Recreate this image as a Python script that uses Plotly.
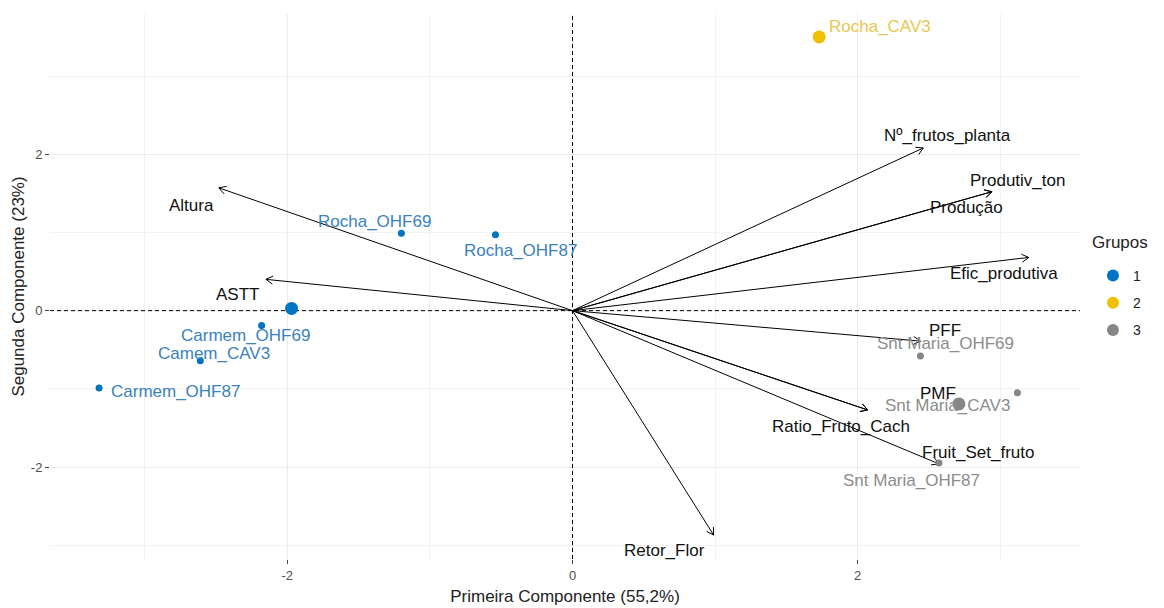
import numpy as np
import plotly.graph_objects as go

# ---- PCA scores of the individuals ----
ind_names = ["Rocha_CAV3", "Rocha_OHF69", "Rocha_OHF87", "Carmem_OHF69", "Camem_CAV3",
             "Carmem_OHF87", "Snt Maria_OHF69", "Snt Maria_CAV3", "Snt Maria_OHF87"]
ind_pc1 = [1.73, -1.20, -0.54, -2.18, -2.61, -3.32, 2.44, 3.12, 2.57]
ind_pc2 = [3.50, 0.99, 0.97, -0.19, -0.64, -0.99, -0.58, -1.05, -1.95]
ind_group = ["2", "1", "1", "1", "1", "1", "3", "3", "3"]

# ---- variable loadings (biplot scale) ----
var_names = ["Altura", "ASTT", "Nº_frutos_planta", "Produtiv_ton", "Produção", "Efic_produtiva",
             "PFF", "PMF", "Ratio_Fruto_Cach", "Fruit_Set_fruto", "Retor_Flor"]
var_pc1 = [-2.48, -2.15, 2.46, 2.94, 2.94, 3.20, 2.44, 2.07, 2.07, 2.57, 0.99]
var_pc2 = [1.57, 0.40, 2.08, 1.52, 1.52, 0.68, -0.39, -1.27, -1.27, -1.96, -2.87]

group_levels = ["1", "2", "3"]

# ---- styling ----
group_colors = {"1": "#0073C2", "2": "#EFC000", "3": "#868686"}
label_colors = {"1": "#3A82BE", "2": "#EBC650", "3": "#8C8C8C"}
FONT = "Liberation Sans, Arial, sans-serif"

# label offsets in pixels (dx right, dy up)
ind_label_shift = {
    "Rocha_CAV3": (61, 10), "Rocha_OHF69": (-27, 12), "Rocha_OHF87": (25, -16),
    "Carmem_OHF69": (-16, -10), "Camem_CAV3": (14, 7), "Carmem_OHF87": (76, -3),
    "Snt Maria_OHF69": (25, 12), "Snt Maria_CAV3": (-70, -13), "Snt Maria_OHF87": (-27, -17),
}
var_label_shift = {
    "Altura": (-27, -18), "ASTT": (-28, -15), "Nº_frutos_planta": (24, 12),
    "Produtiv_ton": (26, 11), "Produção": (-25, -16), "Efic_produtiva": (-25, -16),
    "PFF": (25, 11), "PMF": (70, 16), "Ratio_Fruto_Cach": (-27, -17),
    "Fruit_Set_fruto": (39, 11), "Retor_Flor": (-49, -15),
}

W, H = 1164, 608
M = dict(l=50, r=84, t=14, b=49)
XR = [-3.664, 3.559]
YR = [-3.176, 3.793]
sx = (W - M["l"] - M["r"]) / (XR[1] - XR[0])
sy = (H - M["t"] - M["b"]) / (YR[1] - YR[0])

fig = go.Figure()

# dashed reference lines through the origin
fig.add_trace(go.Scatter(x=[XR[0], XR[1]], y=[0, 0], mode="lines",
                         line=dict(color="black", width=1, dash="4px,3px"),
                         showlegend=False, hoverinfo="skip"))
fig.add_trace(go.Scatter(x=[0, 0], y=[YR[0], YR[1]], mode="lines",
                         line=dict(color="black", width=1, dash="4px,3px"),
                         showlegend=False, hoverinfo="skip"))

# arrows for variables: shafts + open heads computed in pixel space
ax_x, ax_y = [], []
head_len, head_ang = 8.0, np.deg2rad(30)
for vx, vy in zip(var_pc1, var_pc2):
    ax_x += [0, vx, None]
    ax_y += [0, vy, None]
    px, py = vx * sx, vy * sy
    n = np.hypot(px, py)
    ux, uy = -px / n, -py / n
    for s in (1, -1):
        c, si = np.cos(s * head_ang), np.sin(s * head_ang)
        rx, ry = ux * c - uy * si, ux * si + uy * c
        ax_x += [vx + rx * head_len / sx, vx, None]
        ax_y += [vy + ry * head_len / sy, vy, None]
fig.add_trace(go.Scatter(x=ax_x, y=ax_y, mode="lines", line=dict(color="black", width=1),
                         showlegend=False, hoverinfo="skip"))

# individuals by group, with group centroid drawn larger
ind_x = np.array(ind_pc1)
ind_y = np.array(ind_pc2)
grp = np.array(ind_group)
for g in group_levels:
    m = grp == g
    cx, cy = ind_x[m].mean(), ind_y[m].mean()
    xs = list(ind_x[m]) + [cx]
    ys = list(ind_y[m]) + [cy]
    sizes = [7] * int(m.sum()) + [13]
    fig.add_trace(go.Scatter(x=xs, y=ys, mode="markers", name=g, legendgroup=g,
                             marker=dict(color=group_colors[g], size=sizes, opacity=1,
                                         line=dict(width=0))))

annotations = []
for name, x, y, g in zip(ind_names, ind_pc1, ind_pc2, ind_group):
    dx, dy = ind_label_shift[name]
    annotations.append(dict(x=x, y=y, xref="x", yref="y", text=name, showarrow=False,
                            xshift=dx, yshift=dy, font=dict(family=FONT, size=17, color=label_colors[g])))
for name, x, y in zip(var_names, var_pc1, var_pc2):
    dx, dy = var_label_shift[name]
    annotations.append(dict(x=x, y=y, xref="x", yref="y", text=name, showarrow=False,
                            xshift=dx, yshift=dy, font=dict(family=FONT, size=17, color="#111111")))

# legend heading
annotations.append(dict(x=1.0097, y=0.58, xref="paper", yref="paper", text="Grupos",
                        showarrow=False, xanchor="left", yanchor="middle",
                        font=dict(family=FONT, size=17, color="#222222")))

axis_common = dict(
    showline=False, zeroline=False, showgrid=True, gridcolor="#EBEBEB", gridwidth=1,
    ticks="outside", ticklen=4, tickcolor="#444444", tickwidth=1, automargin=False,
    tickfont=dict(family=FONT, size=13, color="#4D4D4D"),
    minor=dict(tickvals=[-3, -1, 1, 3], showgrid=True, gridcolor="#F2F2F2", gridwidth=1, ticks=""),
)

fig.update_layout(
    width=W, height=H, autosize=False, margin=M,
    plot_bgcolor="white", paper_bgcolor="white",
    xaxis=dict(range=XR, tickvals=[-2, 0, 2], ticktext=["-2", "0", "2"],
               title=dict(text="Primeira Componente (55,2%)", standoff=8,
                          font=dict(family=FONT, size=17, color="#222222")), **axis_common),
    yaxis=dict(range=YR, tickvals=[-2, 0, 2], ticktext=["-2", "0", "2"],
               title=dict(text="Segunda Componente (23%)", standoff=1,
                          font=dict(family=FONT, size=17, color="#222222")), **axis_common),
    legend=dict(font=dict(family=FONT, size=14, color="#222222"),
                x=1.0126, xanchor="left", y=0.5486, yanchor="top",
                itemsizing="constant", tracegroupgap=6, bgcolor="rgba(0,0,0,0)"),
    annotations=annotations,
)

fig.write_html("out.html")
